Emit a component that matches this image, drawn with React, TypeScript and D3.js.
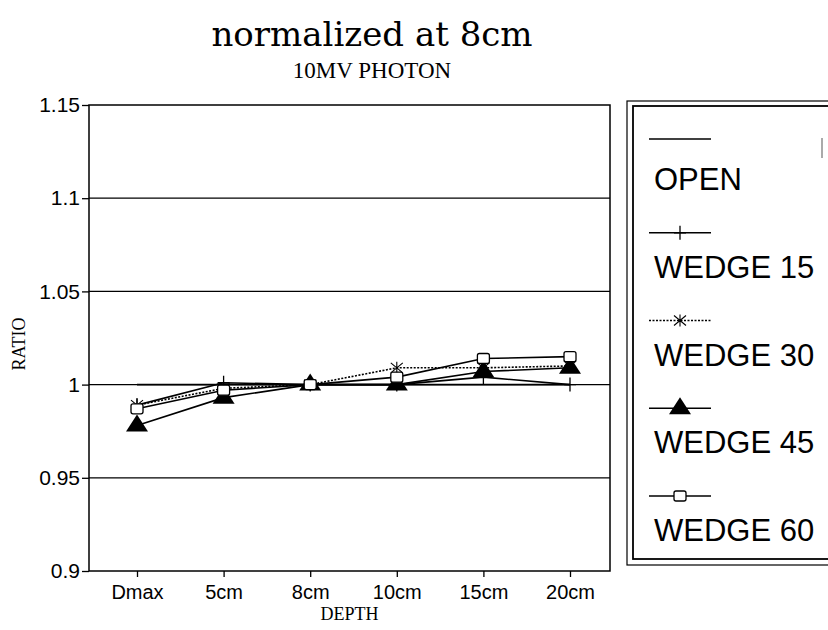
import React, { useRef, useEffect } from "react";
import * as d3 from "d3";

const depths = ["Dmax", "5cm", "8cm", "10cm", "15cm", "20cm"];
const openValues = [1.0, 1.0, 1.0, 1.0, 1.0, 1.0];
const wedge15 = [0.989, 1.001, 1.0, 1.0, 1.004, 1.0];
const wedge30 = [0.989, 0.998, 1.0, 1.009, 1.009, 1.01];
const wedge45 = [0.978, 0.993, 1.0, 1.0, 1.007, 1.009];
const wedge60 = [0.987, 0.997, 1.0, 1.004, 1.014, 1.015];
const yTicks = [0.9, 0.95, 1, 1.05, 1.1, 1.15];
const seriesNames = ["OPEN", "WEDGE 15", "WEDGE 30", "WEDGE 45", "WEDGE 60"];

const App = () => {
  const svgRef = useRef<SVGSVGElement>(null);

  useEffect(() => {
    const width = 828;
    const height = 630;
    const plot = { left: 89, right: 610, top: 105, bottom: 571 };
    const sans = "'Liberation Sans', Arial, sans-serif";
    const serif = "'Liberation Serif', 'Times New Roman', serif";

    const svg = d3
      .select(svgRef.current)
      .attr("width", width)
      .attr("height", height)
      .style("background", "#fff");

    svg.selectAll("*").remove();

    const x = d3.scalePoint<string>().domain(depths).range([137, 570]);
    const y = d3
      .scaleLinear()
      .domain([0.9, 1.15])
      .range([plot.bottom, plot.top]);

    // titles
    svg
      .append("text")
      .attr("x", 372)
      .attr("y", 46)
      .attr("text-anchor", "middle")
      .style("font-family", "'DejaVu Serif', serif")
      .style("font-size", "34px")
      .text("normalized at 8cm");
    svg
      .append("text")
      .attr("x", 372)
      .attr("y", 78)
      .attr("text-anchor", "middle")
      .style("font-family", serif)
      .style("font-size", "23px")
      .text("10MV PHOTON");

    // grid lines
    svg
      .append("g")
      .selectAll("line")
      .data(yTicks.slice(1, -1))
      .enter()
      .append("line")
      .attr("x1", plot.left)
      .attr("x2", plot.right)
      .attr("y1", (d) => y(d))
      .attr("y2", (d) => y(d))
      .attr("stroke", "#000")
      .attr("stroke-width", 1.3);

    // frame
    svg
      .append("rect")
      .attr("x", plot.left)
      .attr("y", plot.top)
      .attr("width", plot.right - plot.left)
      .attr("height", plot.bottom - plot.top)
      .attr("fill", "none")
      .attr("stroke", "#000")
      .attr("stroke-width", 1.5);

    // y axis
    const yAxis = svg
      .append("g")
      .attr("transform", `translate(${plot.left},0)`)
      .call(
        d3
          .axisLeft(y)
          .tickValues(yTicks)
          .tickSize(7)
          .tickPadding(2)
          .tickFormat((d) => d3.format("")(+(+d).toFixed(2)))
      );
    yAxis.select(".domain").remove();
    yAxis.selectAll("line").attr("stroke-width", 1.3);
    yAxis
      .selectAll("text")
      .style("font-family", sans)
      .style("font-size", "21px")
      .attr("fill", "#000");

    // x axis
    const xAxis = svg
      .append("g")
      .attr("transform", `translate(0,${plot.bottom})`)
      .call(d3.axisBottom(x).tickSize(6).tickPadding(8));
    xAxis.select(".domain").remove();
    xAxis.selectAll("line").attr("stroke-width", 1.3);
    xAxis
      .selectAll("text")
      .style("font-family", sans)
      .style("font-size", "20px")
      .attr("fill", "#000");

    svg
      .append("text")
      .attr("x", (plot.left + plot.right) / 2)
      .attr("y", 620)
      .attr("text-anchor", "middle")
      .style("font-family", serif)
      .style("font-size", "18px")
      .text("DEPTH");

    svg
      .append("text")
      .attr("transform", `translate(25,344) rotate(-90)`)
      .attr("text-anchor", "middle")
      .style("font-family", serif)
      .style("font-size", "18px")
      .text("RATIO");

    // markers
    const drawMarker = (g, kind, cx, cy) => {
      if (kind === "plus") {
        g.append("path")
          .attr("d", `M${cx - 6},${cy}H${cx + 6}M${cx},${cy - 7}V${cy + 7}`)
          .attr("stroke", "#000")
          .attr("stroke-width", 1.3)
          .attr("fill", "none");
      } else if (kind === "star") {
        g.append("path")
          .attr(
            "d",
            `M${cx - 6},${cy - 5}L${cx + 6},${cy + 5}M${cx - 6},${cy + 5}L${cx + 6},${cy - 5}M${cx},${cy - 6}V${cy + 6}`
          )
          .attr("stroke", "#000")
          .attr("stroke-width", 1.1)
          .attr("fill", "none");
      } else if (kind === "tri") {
        g.append("path")
          .attr("d", `M${cx},${cy - 11}L${cx + 11},${cy + 6}L${cx - 11},${cy + 6}Z`)
          .attr("fill", "#000");
      } else if (kind === "square") {
        g.append("rect")
          .attr("x", cx - 6)
          .attr("y", cy - 5)
          .attr("width", 12)
          .attr("height", 10)
          .attr("rx", 2)
          .attr("fill", "#fff")
          .attr("stroke", "#000")
          .attr("stroke-width", 1.3);
      }
    };

    const series = [
      { values: openValues, marker: "none", dash: null },
      { values: wedge15, marker: "plus", dash: null },
      { values: wedge30, marker: "star", dash: "2,1.5" },
      { values: wedge45, marker: "tri", dash: null },
      { values: wedge60, marker: "square", dash: null },
    ];

    const line = d3
      .line<number>()
      .x((_, i) => x(depths[i]))
      .y((d) => y(d));

    const lines = svg.append("g");
    series.forEach((s) => {
      lines
        .append("path")
        .datum(s.values)
        .attr("d", line)
        .attr("fill", "none")
        .attr("stroke", "#000")
        .attr("stroke-width", 1.6)
        .attr("stroke-dasharray", s.dash);
    });
    series.forEach((s) => {
      const g = svg.append("g");
      s.values.forEach((v, i) => drawMarker(g, s.marker, x(depths[i]), y(v)));
    });

    // legend
    const legend = svg.append("g");
    legend
      .append("rect")
      .attr("x", 627)
      .attr("y", 101)
      .attr("width", 240)
      .attr("height", 464)
      .attr("fill", "none")
      .attr("stroke", "#000")
      .attr("stroke-width", 1.2);
    legend
      .append("rect")
      .attr("x", 633)
      .attr("y", 106)
      .attr("width", 240)
      .attr("height", 453)
      .attr("fill", "none")
      .attr("stroke", "#000")
      .attr("stroke-width", 1.8);
    legend
      .append("rect")
      .attr("x", 821)
      .attr("y", 138)
      .attr("width", 2)
      .attr("height", 20)
      .attr("fill", "#aaa");

    const legendY = d3
      .scalePoint<string>()
      .domain(seriesNames)
      .range([190, 541]);

    seriesNames.forEach((name, i) => {
      const base = legendY(name);
      const ly = base - (i === 0 ? 51 : 45);
      legend
        .append("line")
        .attr("x1", 649)
        .attr("x2", 711)
        .attr("y1", ly)
        .attr("y2", ly)
        .attr("stroke", "#000")
        .attr("stroke-width", 1.3)
        .attr("stroke-dasharray", series[i].dash);
      drawMarker(legend, series[i].marker, 680, ly);
      legend
        .append("text")
        .attr("x", 654)
        .attr("y", base)
        .style("font-family", sans)
        .style("font-size", "31px")
        .text(name);
    });
  }, []);

  return (
    <svg
      ref={svgRef}
      style={{ position: "absolute", left: 0, top: 0, display: "block" }}
    ></svg>
  );
};

export default App;
